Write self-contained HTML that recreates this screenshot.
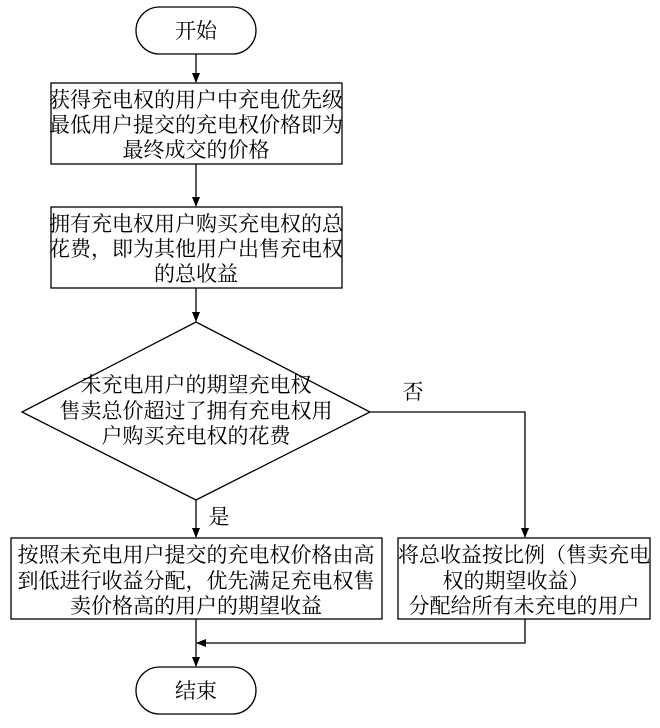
<!DOCTYPE html>
<html><head><meta charset="utf-8"><style>
body{margin:0;background:#fff;}
svg text{font-family:"Liberation Serif","Noto Serif CJK SC",serif;font-size:21px;fill:#000;text-anchor:middle;}
</style></head><body>
<svg width="660" height="723" viewBox="0 0 660 723" xmlns="http://www.w3.org/2000/svg">
<defs><marker id="a" markerWidth="10" markerHeight="10" refX="9" refY="5" orient="auto" markerUnits="userSpaceOnUse"><path d="M0,1 L10,5 L0,9 Z" fill="#000"/></marker></defs>
<g fill="none" stroke="#000" stroke-width="1.3">
<rect x="136" y="7" width="120" height="47" rx="23.5"/>
<rect x="51" y="83" width="291" height="81"/>
<rect x="51" y="207" width="291" height="81"/>
<polygon points="196,322 370,412 196,500 22,412"/>
<rect x="11" y="538" width="371" height="81"/>
<rect x="398" y="538" width="252" height="81"/>
<rect x="136" y="667" width="120" height="47" rx="23.5"/>
<line x1="196" y1="54" x2="196" y2="82" marker-end="url(#a)"/>
<line x1="196" y1="164" x2="196" y2="206" marker-end="url(#a)"/>
<line x1="196" y1="288" x2="196" y2="321" marker-end="url(#a)"/>
<line x1="196" y1="500" x2="196" y2="537" marker-end="url(#a)"/>
<polyline points="370,412 525,412 525,537" marker-end="url(#a)"/>
<line x1="196" y1="619" x2="196" y2="666" marker-end="url(#a)"/>
<polyline points="525,619 525,643 197,643" marker-end="url(#a)"/>
</g>
<text x="196" y="38">开始</text>
<text x="196" y="107">获得充电权的用户中充电优先级</text>
<text x="196" y="132">最低用户提交的充电权价格即为</text>
<text x="196" y="157">最终成交的价格</text>
<text x="196" y="231">拥有充电权用户购买充电权的总</text>
<text x="196" y="256">花费，即为其他用户出售充电权</text>
<text x="196" y="281">的总收益</text>
<text x="196" y="392">未充电用户的期望充电权</text>
<text x="196" y="418">售卖总价超过了拥有充电权用</text>
<text x="196" y="443">户购买充电权的花费</text>
<text x="413" y="399">否</text>
<text x="219" y="524">是</text>
<text x="196" y="562">按照未充电用户提交的充电权价格由高</text>
<text x="196" y="588">到低进行收益分配，优先满足充电权售</text>
<text x="196" y="613">卖价格高的用户的期望收益</text>
<text x="524" y="562">将总收益按比例（售卖充电</text>
<text x="516" y="588">权的期望收益）</text>
<text x="524" y="613">分配给所有未充电的用户</text>
<text x="196" y="698">结束</text>
</svg>
</body></html>
